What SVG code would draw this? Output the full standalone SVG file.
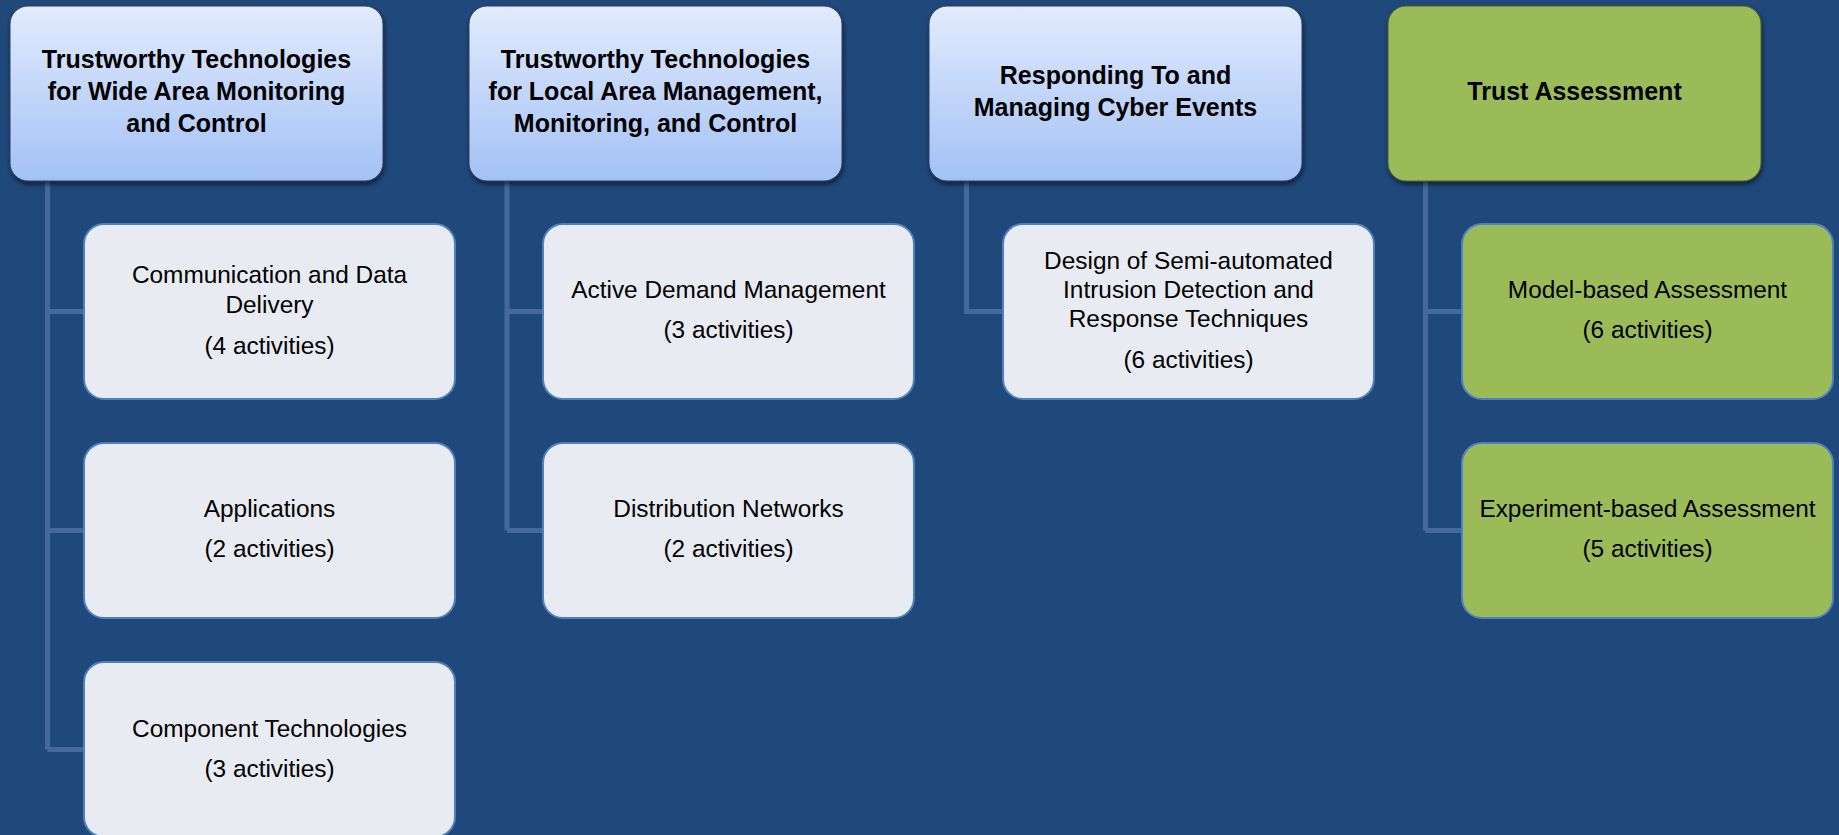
<svg xmlns="http://www.w3.org/2000/svg" width="1839" height="835" viewBox="0 0 1839 835">
  <defs>
    <linearGradient id="hdrBlue" x1="0" y1="0" x2="0" y2="1">
      <stop offset="0" stop-color="#e2ebfd"/>
      <stop offset="1" stop-color="#a3c1f5"/>
    </linearGradient>
    <filter id="shadow" x="-5%" y="-5%" width="112%" height="120%">
      <feDropShadow dx="1" dy="3" stdDeviation="2.5" flood-color="#000" flood-opacity="0.55"/>
    </filter>
  </defs>
  <style>
    .hdr { stroke: #2a3d5c; stroke-width: 1; filter: url(#shadow); }
    .hdr-blue { fill: url(#hdrBlue); }
    .hdr-green { fill: #9bbb59; stroke: #4d5e2c; }
    .child { fill: #e8ebf1; stroke: #4f81bd; stroke-width: 2; }
    .child-green { fill: #9bbb59; }
    .link { fill: none; stroke: #43699d; stroke-width: 5; }
    .ht { font-family: "Liberation Sans", Arial, sans-serif; font-weight: bold; font-size: 25px; fill: #000; text-anchor: middle; }
    .ct { font-family: "Liberation Sans", Arial, sans-serif; font-size: 24.4px; fill: #000; text-anchor: middle; }
  </style>

  <rect width="1839" height="835" fill="#1f487b"/>

  <!-- tree connectors -->
  <g id="connectors">
    <path class="link" d="M47.5 181 V749.5 M47.5 311.5 H84 M47.5 530.5 H84 M47.5 749.5 H84"/>
    <path class="link" d="M507 181 V530.5 M507 311.5 H543 M507 530.5 H543"/>
    <path class="link" d="M966.5 181 V311.5 H1003"/>
    <path class="link" d="M1425.5 181 V530.5 M1425.5 311.5 H1462 M1425.5 530.5 H1462"/>
  </g>

  <!-- column 1 -->
  <g id="wide-area">
    <rect class="hdr hdr-blue" x="10" y="6" width="373" height="175" rx="18"/>
    <text class="ht" x="196.5" y="68">Trustworthy Technologies</text>
    <text class="ht" x="196.5" y="100">for Wide Area Monitoring</text>
    <text class="ht" x="196.5" y="132">and Control</text>
  </g>
  <g id="comm-data">
    <rect class="child" x="84" y="224" width="371" height="175" rx="20"/>
    <text class="ct" x="269.5" y="283">Communication and Data</text>
    <text class="ct" x="269.5" y="313">Delivery</text>
    <text class="ct" x="269.5" y="354">(4 activities)</text>
  </g>
  <g id="applications">
    <rect class="child" x="84" y="443" width="371" height="175" rx="20"/>
    <text class="ct" x="269.5" y="517">Applications</text>
    <text class="ct" x="269.5" y="557">(2 activities)</text>
  </g>
  <g id="component-tech">
    <rect class="child" x="84" y="662" width="371" height="175" rx="20"/>
    <text class="ct" x="269.5" y="737">Component Technologies</text>
    <text class="ct" x="269.5" y="777">(3 activities)</text>
  </g>

  <!-- column 2 -->
  <g id="local-area">
    <rect class="hdr hdr-blue" x="469" y="6" width="373" height="175" rx="18"/>
    <text class="ht" x="655.5" y="68">Trustworthy Technologies</text>
    <text class="ht" x="655.5" y="100">for Local Area Management,</text>
    <text class="ht" x="655.5" y="132">Monitoring, and Control</text>
  </g>
  <g id="active-demand">
    <rect class="child" x="543" y="224" width="371" height="175" rx="20"/>
    <text class="ct" x="728.5" y="298">Active Demand Management</text>
    <text class="ct" x="728.5" y="338">(3 activities)</text>
  </g>
  <g id="distribution">
    <rect class="child" x="543" y="443" width="371" height="175" rx="20"/>
    <text class="ct" x="728.5" y="517">Distribution Networks</text>
    <text class="ct" x="728.5" y="557">(2 activities)</text>
  </g>

  <!-- column 3 -->
  <g id="cyber-events">
    <rect class="hdr hdr-blue" x="929" y="6" width="373" height="175" rx="18"/>
    <text class="ht" x="1115.5" y="84">Responding To and</text>
    <text class="ht" x="1115.5" y="116">Managing Cyber Events</text>
  </g>
  <g id="intrusion">
    <rect class="child" x="1003" y="224" width="371" height="175" rx="20"/>
    <text class="ct" x="1188.5" y="269">Design of Semi-automated</text>
    <text class="ct" x="1188.5" y="298">Intrusion Detection and</text>
    <text class="ct" x="1188.5" y="327">Response Techniques</text>
    <text class="ct" x="1188.5" y="368">(6 activities)</text>
  </g>

  <!-- column 4 -->
  <g id="trust-assessment">
    <rect class="hdr hdr-green" x="1388" y="6" width="373" height="175" rx="18"/>
    <text class="ht" x="1574.5" y="100">Trust Assessment</text>
  </g>
  <g id="model-based">
    <rect class="child child-green" x="1462" y="224" width="371" height="175" rx="20"/>
    <text class="ct" x="1647.5" y="298">Model-based Assessment</text>
    <text class="ct" x="1647.5" y="338">(6 activities)</text>
  </g>
  <g id="experiment-based">
    <rect class="child child-green" x="1462" y="443" width="371" height="175" rx="20"/>
    <text class="ct" x="1647.5" y="517">Experiment-based Assessment</text>
    <text class="ct" x="1647.5" y="557">(5 activities)</text>
  </g>
</svg>
